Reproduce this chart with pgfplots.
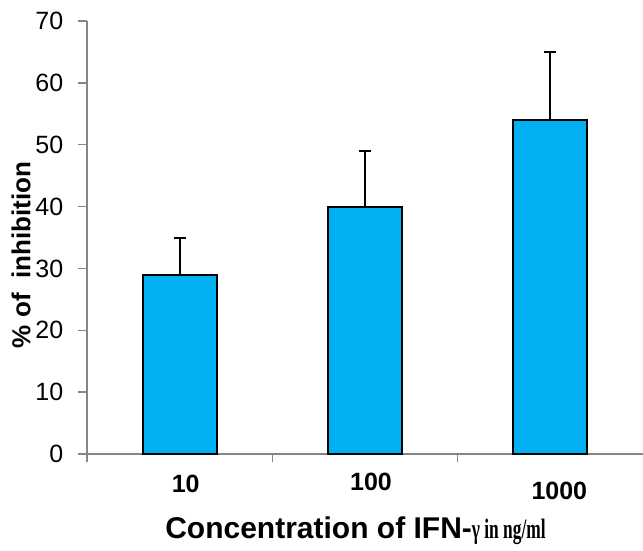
\documentclass[border=0pt]{standalone}
\usepackage{fontspec}
\setmainfont{Liberation Sans}
\newfontfamily\serifc[FakeStretch=0.62]{Liberation Serif}
\usepackage{pgfplots}
\pgfplotsset{compat=1.18}
\definecolor{barcyan}{RGB}{0,176,240}
\definecolor{axgray}{RGB}{134,134,134}
\begin{document}
\begin{tikzpicture}
\useasboundingbox (-87pt,-97pt) rectangle (556pt,454pt);
\begin{axis}[
  at={(0pt,0pt)}, anchor=south west,
  scale only axis, width=556pt, height=433pt,
  xmin=-0.5, xmax=2.5, ymin=0, ymax=70,
  clip=false,
  axis lines*=left,
  axis line style={axgray, line width=1.4pt},
  ybar, bar width=0.4,
  ytick={0,10,...,70},
  xtick={-0.5,0.5,1.5},
  xticklabels={},
  extra x ticks={0,1,2},
  extra x tick labels={10,\raisebox{2pt}{100},\raisebox{-7pt}{\hspace*{6pt}1000}},
  extra x tick style={major tick length=0pt},
  tick align=outside,
  major tick length=8.5pt,
  tick style={axgray, line width=1.4pt},
  /pgf/number format/assume math mode=true,
  yticklabel style={font=\fontsize{25}{25}\selectfont, inner sep=0pt, xshift=-15pt},
  xticklabel style={font=\bfseries\fontsize{25}{25}\selectfont, anchor=base, inner sep=0pt, yshift=-39pt, xshift=6pt},
  ylabel={\% of\ \ inhibition},
  ylabel style={font=\bfseries\fontsize{26}{26}\selectfont, at={(axis description cs:-0.1187,0.4596)}, anchor=center, rotate=0, inner sep=0pt},
  xlabel={{\bfseries\fontsize{30}{30}\selectfont Concentration of IFN-}{\serifc\bfseries\fontsize{28}{28}\selectfont γ in ng/ml}},
  xlabel style={at={(axis description cs:0.4829,-0.194)}, anchor=base, inner sep=0pt},
]
\addplot[fill=barcyan, draw=black, line width=2pt,
  error bars/.cd, y dir=plus, y explicit,
  error bar style={line width=2pt, black},
  error mark options={black, line width=2pt, mark size=6pt, rotate=90}]
  coordinates {(0,29) +- (0,6) (1,40) +- (0,9) (2,54) +- (0,11)};
\end{axis}
\end{tikzpicture}
\end{document}
